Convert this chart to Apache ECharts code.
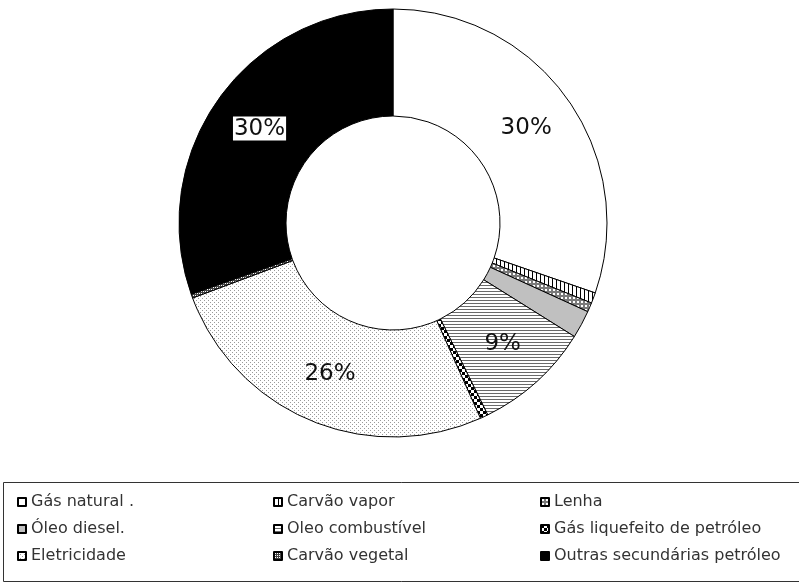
<!DOCTYPE html>
<html>
<head>
<meta charset="utf-8">
<script src="https://cdn.jsdelivr.net/npm/echarts@6/dist/echarts.min.js"></script>
<style>html,body{margin:0;padding:0;background:#fff}#c{width:799px;height:585px}</style>
</head>
<body>
<div id="c"></div>
<script>
// Data
const categories = ['Gás natural .', 'Carvão vapor', 'Lenha', 'Óleo diesel.', 'Oleo combustível',
  'Gás liquefeito de petróleo', 'Eletricidade', 'Carvão vegetal', 'Outras secundárias petróleo'];
const values = [30.3, 0.8, 0.7, 2.1, 8.8, 0.6, 26.0, 0.3, 30.4];
const legendCol1 = ['Gás natural .', 'Óleo diesel.', 'Eletricidade'];
const legendCol2 = ['Carvão vapor', 'Oleo combustível', 'Carvão vegetal'];
const legendCol3 = ['Lenha', 'Gás liquefeito de petróleo', 'Outras secundárias petróleo'];

function pat(size, draw) {
  const c = document.createElement('canvas');
  c.width = size; c.height = size;
  const g = c.getContext('2d');
  draw(g, size);
  return { image: c, repeat: 'repeat' };
}
const fills = [
  '#ffffff',
  pat(4, (g, s) => { g.fillStyle = '#fff'; g.fillRect(0, 0, s, s); g.fillStyle = '#000'; g.fillRect(0, 0, 1, s); }),
  pat(4, (g, s) => { g.fillStyle = '#7a7a7a'; g.fillRect(0, 0, s, s); g.fillStyle = '#fff'; g.fillRect(1, 1, 2, 2); }),
  '#c0c0c0',
  pat(3, (g, s) => { g.fillStyle = '#fff'; g.fillRect(0, 0, s, s); g.fillStyle = '#6a6a6a'; g.fillRect(0, 0, s, 1); }),
  pat(6, (g, s) => { g.fillStyle = '#fff'; g.fillRect(0, 0, s, s); g.fillStyle = '#000'; g.fillRect(0, 0, 3, 3); g.fillRect(3, 3, 3, 3); }),
  pat(4, (g, s) => { g.fillStyle = '#fff'; g.fillRect(0, 0, s, s); g.fillStyle = '#9a9a9a'; g.fillRect(0, 0, 1, 1); g.fillRect(2, 2, 1, 1); }),
  pat(2, (g, s) => { g.fillStyle = '#fff'; g.fillRect(0, 0, s, s); g.fillStyle = '#444'; g.fillRect(0, 0, 2, 1); g.fillRect(0, 0, 1, 2); }),
  '#000000'
];

const data = categories.map((n, i) => {
  const d = { name: n, value: values[i], itemStyle: { color: fills[i] } };
  if (i === 8) d.label = { backgroundColor: '#fff', padding: [1, 1, 0, 1] };
  return d;
});

const legendBase = {
  orient: 'vertical', icon: 'rect', itemWidth: 8, itemHeight: 8, itemGap: 11,
  padding: 0, selectedMode: false,
  textStyle: { fontFamily: 'DejaVu Sans', fontSize: 16, color: '#333', lineHeight: 16 }
};

const chart = echarts.init(document.getElementById('c'), null, { renderer: 'canvas' });
chart.setOption({
  animation: false,
  backgroundColor: '#fff',
  graphic: [{
    type: 'rect', shape: { x: 3.5, y: 482.5, width: 810, height: 99 },
    style: { fill: 'none', stroke: '#333', lineWidth: 1 }, silent: true, z: 0
  }],
  legend: [
    Object.assign({}, legendBase, { data: legendCol1, left: 17, top: 494 }),
    Object.assign({}, legendBase, { data: legendCol2, left: 273, top: 494 }),
    Object.assign({}, legendBase, { data: legendCol3, left: 540, top: 494 })
  ],
  series: [{
    type: 'pie',
    center: [393, 223],
    radius: [107, 214],
    startAngle: 90,
    clockwise: true,
    avoidLabelOverlap: false,
    itemStyle: { borderColor: '#000', borderWidth: 1 },
    label: {
      position: 'inside',
      fontFamily: 'DejaVu Sans',
      fontSize: 23,
      color: '#111',
      formatter: p => p.value >= 5 ? Math.round(p.value) + '%' : ''
    },
    labelLine: { show: false },
    emphasis: { disabled: true },
    data: data
  }]
});
</script>
</body>
</html>
